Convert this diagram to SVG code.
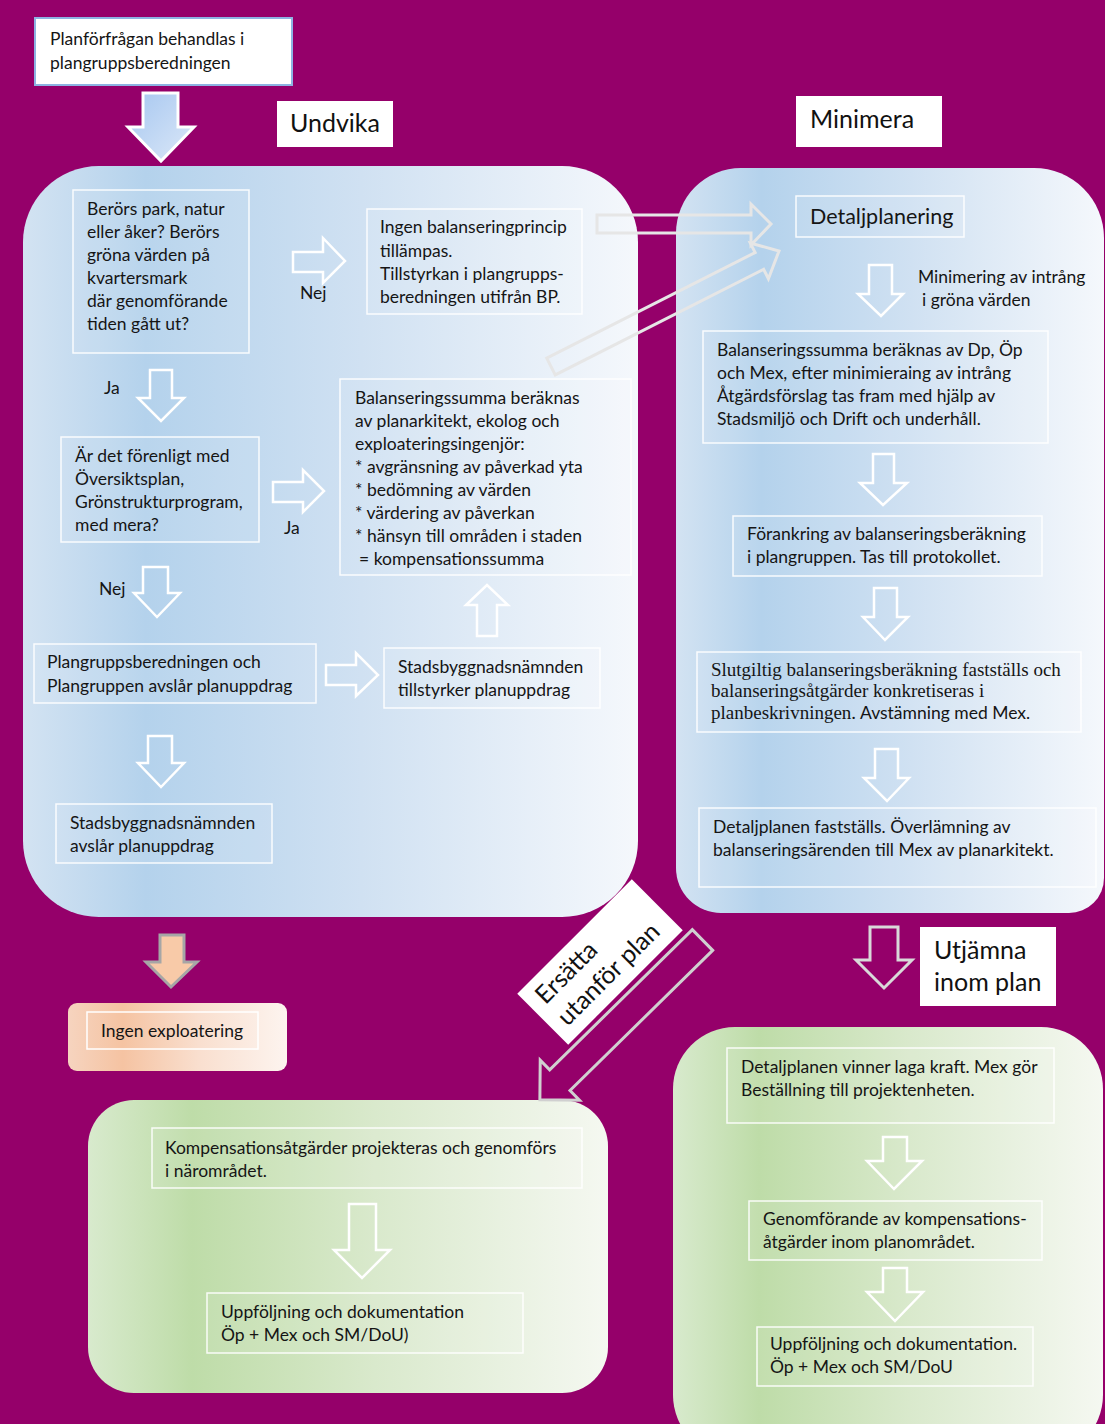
<svg xmlns="http://www.w3.org/2000/svg" width="1105" height="1424" viewBox="0 0 1105 1424">
<defs>
<linearGradient id="gBlue" x1="0" y1="0" x2="1" y2="0">
<stop offset="0" stop-color="#d3e3f2"/><stop offset="0.2" stop-color="#b4d2ec"/><stop offset="0.55" stop-color="#d0e1f2"/><stop offset="1" stop-color="#f5f8fc"/>
</linearGradient>
<linearGradient id="gGreen" x1="0" y1="0" x2="1" y2="0">
<stop offset="0" stop-color="#d8eacd"/><stop offset="0.2" stop-color="#bedca8"/><stop offset="0.55" stop-color="#d9e9cc"/><stop offset="1" stop-color="#f5f8f1"/>
</linearGradient>
<linearGradient id="gOrange" x1="0" y1="0" x2="1" y2="0">
<stop offset="0" stop-color="#f6d4bf"/><stop offset="0.25" stop-color="#f5c3a2"/><stop offset="0.6" stop-color="#f9dfcf"/><stop offset="1" stop-color="#fdf4ef"/>
</linearGradient>
<linearGradient id="gArrow" x1="0" y1="0" x2="1" y2="1">
<stop offset="0" stop-color="#a6c7f0"/><stop offset="1" stop-color="#dce8f8"/>
</linearGradient>
<style>
.t{font-family:Lato,"Open Sans",sans-serif;font-size:17.5px;fill:#151515}
.s{font-family:"Liberation Serif","Times New Roman",serif;font-size:19px;fill:#151515}
.big{font-family:Lato,"Open Sans",sans-serif;font-size:25px;fill:#111}
.box{fill:#ffffff;fill-opacity:0.08;stroke:#ffffff;stroke-opacity:0.9;stroke-width:1.5}
.wa{fill:none;stroke:#ffffff;stroke-width:2.5;stroke-linejoin:miter}
.ga{fill:none;stroke:#e6e6e6;stroke-width:3;stroke-linejoin:miter}
</style>
</defs>
<rect x="0" y="0" width="1105" height="1424" fill="#95006a"/>

<g id="panels">
<rect id="panel-undvika" x="23" y="166" width="615" height="751" rx="76" fill="url(#gBlue)"/>
<path id="panel-minimera" d="M741,168 H1034 A70,70 0 0 1 1104,238 V878 A35,35 0 0 1 1069,913 H721 A45,45 0 0 1 676,868 V233 A65,65 0 0 1 741,168 Z" fill="url(#gBlue)"/>
<rect id="panel-ersatta" x="88" y="1100" width="520" height="293" rx="46" fill="url(#gGreen)"/>
<rect id="panel-utjamna" x="673" y="1027" width="430" height="430" rx="62" fill="url(#gGreen)"/>
</g>

<g id="n-start">
<rect x="35" y="18" width="257" height="67" fill="#ffffff" stroke="#8db3e2" stroke-width="2"/>
<text class="t" x="50" y="45">Planförfrågan behandlas i</text>
<text class="t" x="50" y="69">plangruppsberedningen</text>
</g>
<g id="lbl-undvika">
<rect x="277" y="101" width="116" height="46" fill="#ffffff"/>
<text class="big" x="290" y="132">Undvika</text>
</g>
<g id="lbl-minimera">
<rect x="796" y="96" width="146" height="51" fill="#ffffff"/>
<text class="big" x="810" y="128">Minimera</text>
</g>
<g id="lbl-utjamna">
<rect x="920" y="927" width="136" height="79" fill="#ffffff"/>
<text class="big" x="934" y="959">Utjämna</text>
<text class="big" x="934" y="991">inom plan</text>
</g>

<g id="n-berors">
<rect class="box" x="73" y="190" width="176" height="163"/>
<text class="t" x="87" y="215">Berörs park, natur</text>
<text class="t" x="87" y="238">eller åker? Berörs</text>
<text class="t" x="87" y="261">gröna värden på</text>
<text class="t" x="87" y="284">kvartersmark</text>
<text class="t" x="87" y="307">där genomförande</text>
<text class="t" x="87" y="330">tiden gått ut?</text>
</g>
<g id="n-ingen-bal">
<rect class="box" x="367" y="209" width="215" height="105"/>
<text class="t" x="380" y="233">Ingen balanseringprincip</text>
<text class="t" x="380" y="257">tillämpas.</text>
<text class="t" x="380" y="280">Tillstyrkan i plangrupps-</text>
<text class="t" x="380" y="303">beredningen utifrån BP.</text>
</g>
<g id="n-forenligt">
<rect class="box" x="61" y="437" width="198" height="105"/>
<text class="t" x="75" y="462">Är det förenligt med</text>
<text class="t" x="75" y="485">Översiktsplan,</text>
<text class="t" x="75" y="508">Grönstrukturprogram,</text>
<text class="t" x="75" y="531">med mera?</text>
</g>
<g id="n-balsumma">
<rect class="box" x="340" y="379" width="291" height="196"/>
<text class="t" x="355" y="404">Balanseringssumma beräknas</text>
<text class="t" x="355" y="427">av planarkitekt, ekolog och</text>
<text class="t" x="355" y="450">exploateringsingenjör:</text>
<text class="t" x="355" y="473">* avgränsning av påverkad yta</text>
<text class="t" x="355" y="496">* bedömning av värden</text>
<text class="t" x="355" y="519">* värdering av påverkan</text>
<text class="t" x="355" y="542">* hänsyn till områden i staden</text>
<text class="t" x="359" y="565">= kompensationssumma</text>
</g>
<g id="n-plangrupp-avslar">
<rect class="box" x="34" y="644" width="282" height="59"/>
<text class="t" x="47" y="668">Plangruppsberedningen och</text>
<text class="t" x="47" y="692">Plangruppen avslår planuppdrag</text>
</g>
<g id="n-sbn-tillstyrker">
<rect class="box" x="384" y="648" width="216" height="60"/>
<text class="t" x="398" y="673">Stadsbyggnadsnämnden</text>
<text class="t" x="398" y="696">tillstyrker planuppdrag</text>
</g>
<g id="n-sbn-avslar">
<rect class="box" x="56" y="804" width="216" height="59"/>
<text class="t" x="70" y="829">Stadsbyggnadsnämnden</text>
<text class="t" x="70" y="852">avslår planuppdrag</text>
</g>

<g id="n-detaljplanering">
<rect class="box" x="796" y="196" width="168" height="41"/>
<text class="t" x="810" y="224" style="font-size:21.5px">Detaljplanering</text>
</g>
<g id="n-bal-dp">
<rect class="box" x="703" y="331" width="345" height="112"/>
<text class="t" x="717" y="356">Balanseringssumma beräknas av Dp, Öp</text>
<text class="t" x="717" y="379">och Mex, efter minimieraing av intrång</text>
<text class="t" x="717" y="402">Åtgärdsförslag tas fram med hjälp av</text>
<text class="t" x="717" y="425">Stadsmiljö och Drift och underhåll.</text>
</g>
<g id="n-forankring">
<rect class="box" x="733" y="516" width="309" height="60"/>
<text class="t" x="747" y="540">Förankring av balanseringsberäkning</text>
<text class="t" x="747" y="563">i plangruppen. Tas till protokollet.</text>
</g>
<g id="n-slutgiltig">
<rect class="box" x="697" y="652" width="384" height="80"/>
<text class="s" x="711" y="676">Slutgiltig balanseringsberäkning fastställs och</text>
<text class="s" x="711" y="697">balanseringsåtgärder konkretiseras i</text>
<text class="s" x="711" y="719">planbeskrivningen.<tspan class="t" style="font-size:17.5px"> Avstämning med Mex.</tspan></text>
</g>
<g id="n-faststalls">
<rect class="box" x="699" y="808" width="397" height="79"/>
<text class="t" x="713" y="833">Detaljplanen fastställs. Överlämning av</text>
<text class="t" x="713" y="856">balanseringsärenden till Mex av planarkitekt.</text>
</g>

<g id="n-ingen-expl">
<rect x="68" y="1003" width="219" height="68" rx="9" fill="url(#gOrange)"/>
<rect x="87" y="1012" width="171" height="37" fill="none" stroke="#ffffff" stroke-width="1.5"/>
<text class="t" x="101" y="1037">Ingen exploatering</text>
</g>

<g id="lbl-ersatta" transform="translate(600,962) rotate(-45)">
<rect x="-81" y="-36" width="162" height="72" fill="#ffffff"/>
<text class="big" x="-69" y="-8">Ersätta</text>
<text class="big" x="-69" y="23">utanför plan</text>
</g>

<g id="n-kompensation">
<rect class="box" x="152" y="1128" width="430" height="60"/>
<text class="t" x="165" y="1154">Kompensationsåtgärder projekteras och genomförs</text>
<text class="t" x="165" y="1177">i närområdet.</text>
</g>
<g id="n-uppfoljning-1">
<rect class="box" x="207" y="1293" width="316" height="60"/>
<text class="t" x="221" y="1318">Uppföljning och dokumentation</text>
<text class="t" x="221" y="1341">Öp + Mex och SM/DoU)</text>
</g>
<g id="n-laga-kraft">
<rect class="box" x="727" y="1048" width="327" height="75"/>
<text class="t" x="741" y="1073">Detaljplanen vinner laga kraft. Mex gör</text>
<text class="t" x="741" y="1096">Beställning till projektenheten.</text>
</g>
<g id="n-genomforande">
<rect class="box" x="749" y="1201" width="293" height="59"/>
<text class="t" x="763" y="1225">Genomförande av kompensations-</text>
<text class="t" x="763" y="1248">åtgärder inom planområdet.</text>
</g>
<g id="n-uppfoljning-2">
<rect class="box" x="757" y="1327" width="276" height="59"/>
<text class="t" x="770" y="1350">Uppföljning och dokumentation.</text>
<text class="t" x="770" y="1373">Öp + Mex och SM/DoU</text>
</g>

<g id="connectors">
<polygon points="143,93 178,93 178,127 194,127 161,161 128,127 143,127" fill="url(#gArrow)" stroke="#ffffff" stroke-width="3"/>
<polygon class="wa" points="293,252 323,252 323,238 345,261 323,283 323,272 293,272"/>
<text class="t" x="300" y="299">Nej</text>
<polygon class="wa" points="150,370 172,370 172,398 184,398 161,421 138,398 150,398"/>
<text class="t" x="104" y="394">Ja</text>
<polygon class="wa" points="273,482 303,482 303,470 324,491 303,512 303,502 273,502"/>
<text class="t" x="284" y="534">Ja</text>
<polygon class="wa" points="143,567 168,567 168,593 180,593 157,617 134,593 143,593"/>
<text class="t" x="99" y="595">Nej</text>
<polygon class="wa" points="326,665 356,665 356,653 378,675 356,696 356,685 326,685"/>
<polygon class="wa" points="477,636 497,636 497,605 508,605 487,585 466,605 477,605"/>
<polygon class="wa" points="148,736 172,736 172,763 184,763 161,787 138,763 148,763"/>

<polygon class="ga" points="597,215 751,215 751,204 771,224 751,245 751,233 597,233"/>
<polygon class="ga" transform="translate(551,366.5) rotate(-26.87)" points="0,-9.4 233.6,-9.4 233.6,-20 255.6,0 233.6,20 233.6,9.4 0,9.4"/>

<polygon class="wa" points="869,265 892,265 892,294 903,294 881,316 858,294 869,294"/>
<text class="t" x="918" y="283">Minimering av intrång</text>
<text class="t" x="922" y="306">i gröna värden</text>
<polygon class="wa" points="873,454 894,454 894,483 907,483 883,505 860,483 873,483"/>
<polygon class="wa" points="874,588 897,588 897,617 908,617 885,640 863,617 874,617"/>
<polygon class="wa" points="875,749 898,749 898,778 909,778 887,801 864,778 875,778"/>

<polygon points="160,935 184,935 184,962 197,962 171,987 146,962 160,962" fill="#f8caa8" stroke="#a6a6a6" stroke-width="3"/>
<polygon points="870,927 898,927 898,960 912,960 884,988 856,960 870,960" fill="none" stroke="#d9d9d9" stroke-width="3"/>
<polygon fill="none" stroke="#d0d0d0" stroke-width="3" transform="translate(702.5,940) rotate(135.5)" points="0,-14.5 200,-14.5 200,-28 228,0 200,28 200,14.5 0,14.5"/>

<polygon class="wa" points="349,1204 376,1204 376,1250 390,1250 362,1278 334,1250 349,1250"/>
<polygon class="wa" points="883,1137 907,1137 907,1161 922,1161 894,1189 867,1161 883,1161"/>
<polygon class="wa" points="883,1268 907,1268 907,1292 923,1292 895,1321 867,1292 883,1292"/>
</g>
</svg>
